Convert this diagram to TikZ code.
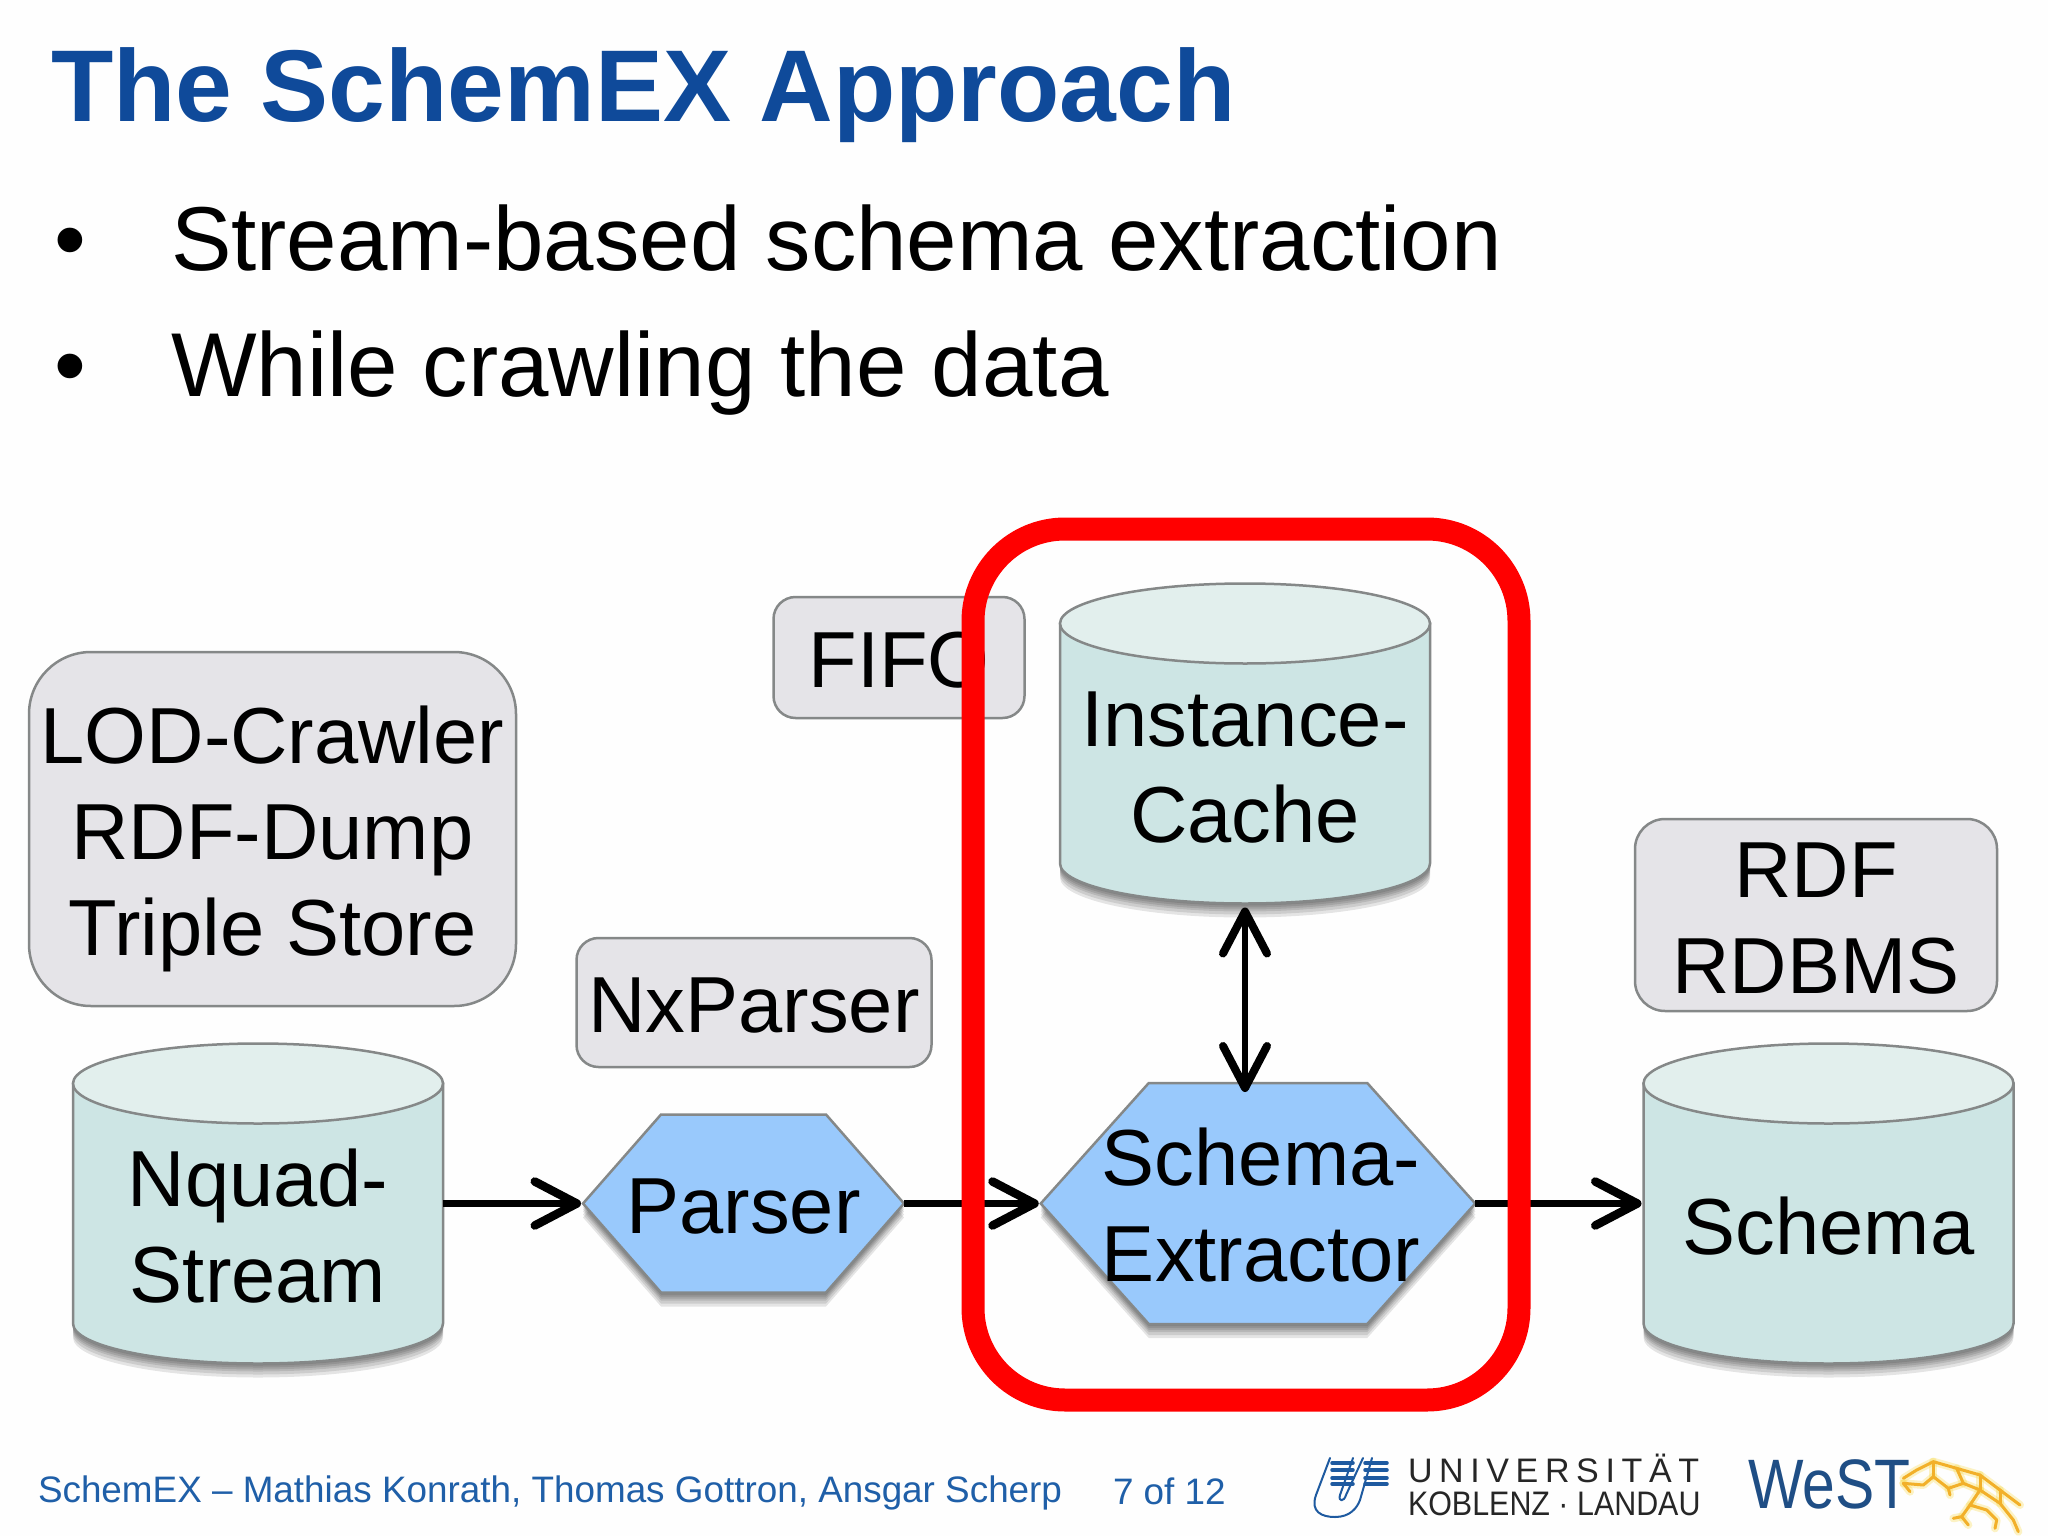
\documentclass[tikz,border=0pt]{standalone}
\usepackage{fontspec}
\setmainfont{Liberation Sans}
\usetikzlibrary{arrows.meta,calc}
\pgfdeclarelayer{page}\pgfdeclarelayer{bg}\pgfdeclarelayer{front}\pgfsetlayers{page,bg,main,front}
\definecolor{titleblue}{HTML}{0F4A9A}
\definecolor{footblue}{HTML}{1F5FA8}
\definecolor{boxfill}{HTML}{E5E4E8}
\definecolor{edgegray}{HTML}{858888}
\definecolor{cylbody}{HTML}{CDE5E4}
\definecolor{cyltop}{HTML}{E2EFED}
\definecolor{hexfill}{HTML}{99C9FC}
\definecolor{westblue}{HTML}{1F4E85}
\definecolor{logoblue}{HTML}{1E5AA0}
\definecolor{netorange}{HTML}{F2B02A}
\definecolor{pagebg}{HTML}{FEFEFE}
\newcommand\lbl[2]{\raisebox{0pt}[\dimexpr\height+#1pt+#1pt\relax][\depth]{\begin{tabular}{@{}c@{}}#2\end{tabular}}}
\newcommand\cylnode[4]{%
  \node[shapenode,minimum width=370pt,minimum height=321pt] (#1) at (#2,#3) {\lbl{32}{#4}};
  \begin{pgfonlayer}{bg}
  \begin{scope}[shift={(#2,#3)}]
    \foreach \s in {2,4,6,8,11,14}
      \fill[black,opacity=.1] (-185,-120+\s) -- (-185,120+\s) arc[start angle=180,end angle=0,x radius=185,y radius=40] -- (185,-120+\s) -- cycle;
    \path[draw=edgegray,line width=2.5pt,fill=cylbody] (-185,-120) -- (-185,120) arc[start angle=180,end angle=0,x radius=185,y radius=40] -- (185,-120) -- cycle;
    \path[draw=edgegray,line width=2.5pt,fill=cyltop] (0,-120) ellipse[x radius=185,y radius=40];
  \end{scope}
  \end{pgfonlayer}}
\newcommand\hexnode[7]{%
  \node[shapenode,minimum width=#4 pt,minimum height=#5 pt] (#1) at (#2,#3) {#7};
  \begin{pgfonlayer}{bg}
    \foreach \s in {2,4,6,8,11,14}
      \fill[black,opacity=.1,transform canvas={yshift=-\s pt}] (#1.west) -- ($(#1.north west)+(#6,0)$) -- ($(#1.north east)+(-#6,0)$) -- (#1.east) -- ($(#1.south east)+(-#6,0)$) -- ($(#1.south west)+(#6,0)$) -- cycle;
    \path[draw=edgegray,line width=2.5pt,fill=hexfill] (#1.west) -- ($(#1.north west)+(#6,0)$) -- ($(#1.north east)+(-#6,0)$) -- (#1.east) -- ($(#1.south east)+(-#6,0)$) -- ($(#1.south west)+(#6,0)$) -- cycle;
  \end{pgfonlayer}}
\tikzset{
  x=1pt,y=-1pt,
  shapenode/.style={inner sep=0pt,outer sep=0pt,font=\fontsize{79.5}{96}\selectfont,text=black},
  notebox/.style={shapenode,draw=edgegray,line width=2.5pt,fill=boxfill},
  conn/.style={draw=black,line width=7.5pt,shorten >=2pt,-{Straight Barb[length=42pt,width=44pt,round,line width=8.5pt]}},
  conntwo/.style={draw=black,line width=6.5pt,{Straight Barb[length=42pt,width=44pt,round,line width=8pt]}-{Straight Barb[length=42pt,width=44pt,round,line width=8pt]}},
  plain/.style={anchor=base west,inner sep=0pt,outer sep=0pt},
  net/.style={line cap=round,line join=round,draw=netorange,line width=3pt},
  nethalo/.style={line cap=round,line join=round,draw=netorange!60!yellow,line width=8pt,opacity=.25},
}
\begin{document}
\begin{tikzpicture}
\useasboundingbox (0,0) rectangle (2048,1536);
\begin{pgfonlayer}{page}
\fill[pagebg] (0,0) rectangle (2048,1536);
\end{pgfonlayer}
% title and bullets
\node[plain,text=titleblue,font=\fontsize{102}{120}\selectfont\bfseries] (title) at (51,122) {The SchemEX Approach};
\node[plain,font=\fontsize{90.7}{108}\selectfont] (b1) at (54,270) {•};
\node[plain,font=\fontsize{90.7}{108}\selectfont] (t1) at (171,270) {Stream-based schema extraction};
\node[plain,font=\fontsize{90.7}{108}\selectfont] (b2) at (54,396) {•};
\node[plain,font=\fontsize{90.7}{108}\selectfont] (t2) at (171,396) {While crawling the data};
% note boxes
\node[notebox,rounded corners=62pt,minimum width=487pt,minimum height=354pt] (lod) at (272.5,829) {\lbl{11}{LOD-Crawler\\RDF-Dump\\Triple Store}};
\node[notebox,rounded corners=22pt,minimum width=251pt,minimum height=121pt] (fifo) at (899,657.5) {\lbl{11}{FIFO}};
\node[notebox,rounded corners=22pt,minimum width=355pt,minimum height=129pt] (nx) at (754,1002.5) {\lbl{11}{NxParser}};
\node[notebox,inner ysep=-15pt,rounded corners=30pt,minimum width=362pt,minimum height=192pt] (rdf) at (1816,915) {\lbl{11}{RDF\\RDBMS}};
% stores and processes
\cylnode{nq}{258}{1203.5}{Nquad-\\Stream}
\cylnode{inst}{1245}{743.5}{Instance-\\Cache}
\cylnode{sch}{1828.5}{1203.5}{Schema}
\hexnode{parser}{743.5}{1203.5}{321}{178}{78}{\lbl{11}{Parser}}
\hexnode{ext}{1258}{1203.5}{434.5}{241}{108}{\hspace*{6pt}\lbl{11}{Schema-\\Extractor}}
% connectors
\draw[conn] (nq.east) -- (parser.west);
\draw[conn] (parser.east) -- (ext.west);
\draw[conn] (ext.east) -- (sch.west);
\draw[conntwo,shorten <=3.5pt,shorten >=-9pt] (inst.south) -- (inst.south |- ext.north);
% highlight
\begin{pgfonlayer}{front}
\draw[red,line width=23pt,rounded corners=92pt] (973,529) rectangle (1519,1400);
\end{pgfonlayer}
% footer
\node[plain,text=footblue,font=\fontsize{36.85}{44}\selectfont] (foot) at (38,1502) {SchemEX – Mathias Konrath, Thomas Gottron, Ansgar Scherp};
\node[plain,text=footblue,font=\fontsize{36.85}{44}\selectfont] (page) at (1113,1504) {7 of 12};
% university logo
\begin{scope}[logoblue,line width=2pt,line cap=round,line join=round]
\draw (1330,1458) -- (1316,1495) .. controls (1310,1512) and (1322,1517) .. (1335,1517) .. controls (1350,1517) and (1357,1508) .. (1360,1500) -- (1372,1458);
\draw (1353,1458) -- (1340,1495) .. controls (1338,1502) and (1344,1502) .. (1346,1495) -- (1363,1458);
\foreach \y in {1463,1470,1478,1484} {
  \draw[line width=3.5pt] (1332,\y) -- (1353,\y);
  \draw[line width=3.5pt] (1365,\y) -- (1387,\y);
}
\end{scope}
\node[plain,text=black!85,font=\fontsize{34}{40}\selectfont\addfontfeature{LetterSpace=19.5}] (uni) at (1408,1482) {UNIVERSITÄT};
\node[plain,text=black!85,font=\fontsize{34}{40}\selectfont,xscale=.895] (kob) at (1408,1515) {KOBLENZ · LANDAU};
% WeST logo
\begin{scope}[shift={(1900,1440)},x=.3333pt,y=-.3333pt]
\foreach \st in {nethalo,net} {
\draw[\st] (10,115) -- (50,90) -- (100,65) -- (170,85) -- (240,105) -- (300,150) -- (360,195);
\draw[\st] (10,130) -- (70,135) -- (100,110) -- (145,145) -- (190,130) -- (240,150) -- (300,190) -- (340,240) -- (355,275);
\draw[\st] (100,65) -- (100,110);
\draw[\st] (145,145) -- (150,165);
\draw[\st] (170,85) -- (190,130);
\draw[\st] (240,105) -- (240,150);
\draw[\st] (300,150) -- (300,190);
\draw[\st] (240,150) -- (210,195) -- (185,230) -- (160,235);
\draw[\st] (185,230) -- (205,255);
\draw[\st] (210,195) -- (260,210) -- (290,240) -- (285,265);
\draw[\st] (10,130) -- (30,155);
}
\end{scope}
\node[plain,text=westblue,font=\fontsize{70}{80}\selectfont,xscale=.84] (west) at (1748,1508) {WeST};
\end{tikzpicture}
\end{document}
